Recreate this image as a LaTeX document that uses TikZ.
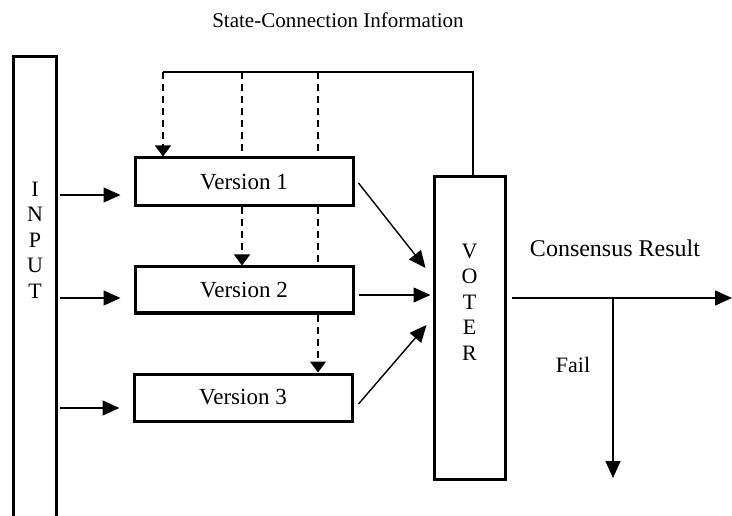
\documentclass[tikz,border=0pt]{standalone}
\usepackage{fontspec}
\setmainfont{Liberation Serif}
\usetikzlibrary{arrows.meta,calc}
\begin{document}
\begin{tikzpicture}[x=1pt,y=-1pt,
  box/.style={draw,line width=3pt,fill=white,inner sep=0pt,font=\fontsize{23}{27}\selectfont},
  conn/.style={line width=1.4pt},
  arr/.style={conn,-{Triangle[length=17pt,width=15pt]}},
  darr/.style={conn,dash pattern=on 7pt off 5pt,-{Triangle[length=11pt,width=16pt]}},
  dline/.style={conn,dash pattern=on 7pt off 5pt},
  lbl/.style={inner sep=0pt,font=\fontsize{22}{26}\selectfont},
  stack/.style={inner sep=0pt,align=center,font=\fontsize{22}{25.5}\selectfont}]
\useasboundingbox (0,0) rectangle (732,516);

% nodes
\node[minimum width=43pt,minimum height=459pt,inner sep=0pt] (input) at (35,286.5) {};
\node[stack] (inputtext) at (35,240) {I\\N\\P\\U\\T};
\node[box,minimum width=218pt,minimum height=48pt] (v1) at (244,182) {Version 1};
\node[box,minimum width=218pt,minimum height=46pt] (v2) at (244,290) {Version 2};
\node[box,minimum width=218pt,minimum height=47pt] (v3) at (243,397.5) {Version 3};
\node[box,minimum width=71pt,minimum height=302pt] (voter) at (469.5,328) {};
\node[stack] (votertext) at (469.5,302) {V\\O\\T\\E\\R};

\node[lbl,font=\fontsize{21}{25}\selectfont] (state) at (338,20) {State-Connection Information};
\node[lbl,font=\fontsize{24}{28}\selectfont] (cons) at (615,248) {Consensus Result};
\node[lbl] (fail) at (573,365) {Fail};

% input box, open at the bottom
\draw[line width=3pt] (input.south west) -- (input.north west) -- (input.north east) -- (input.south east);

% feedback
\coordinate (fbR) at (473,72);
\coordinate (fbL) at (163,72);
\coordinate (d2) at (242,72);
\coordinate (d3) at (318,72);
\draw[conn] (voter.north -| fbR) -- (fbR) -- (fbL);
\draw[darr] (fbL) -- (fbL |- v1.north);
\draw[dline] (d2) -- (d2 |- v1.north);
\draw[darr] (d2 |- v1.south) -- (d2 |- v2.north);
\draw[dline] (d3) -- (d3 |- v1.north);
\draw[dline] (d3 |- v1.south) -- (d3 |- v2.north);
\draw[darr] (d3 |- v2.south) -- (d3 |- v3.north);

% inputs
\draw[arr] ($(input.east|-v1.west)+(3,13)$) -- ($(v1.west)+(-13,13)$);
\draw[arr] ($(input.east|-v2.west)+(3,8)$) -- ($(v2.west)+(-13,8)$);
\draw[arr] ($(input.east|-v3.west)+(3,10.5)$) -- ($(v3.west)+(-13,10.5)$);

% versions to voter
\draw[arr] ($(v1.east)+(4,1)$) -- ($(voter.west)+(-7,-60)$);
\draw[arr] ($(v2.east)+(4,5)$) -- ($(voter.west)+(-2,-33)$);
\draw[arr] ($(v3.east)+(5,6.5)$) -- ($(voter.west)+(-6,-3)$);

% outputs
\coordinate (out) at (732,298);
\coordinate (failtop) at (613,298);
\coordinate (failend) at (613,478);
\draw[arr] ($(voter.east)+(5,-30)$) -- (out);
\draw[arr] (failtop) -- (failend);
\end{tikzpicture}
\end{document}
